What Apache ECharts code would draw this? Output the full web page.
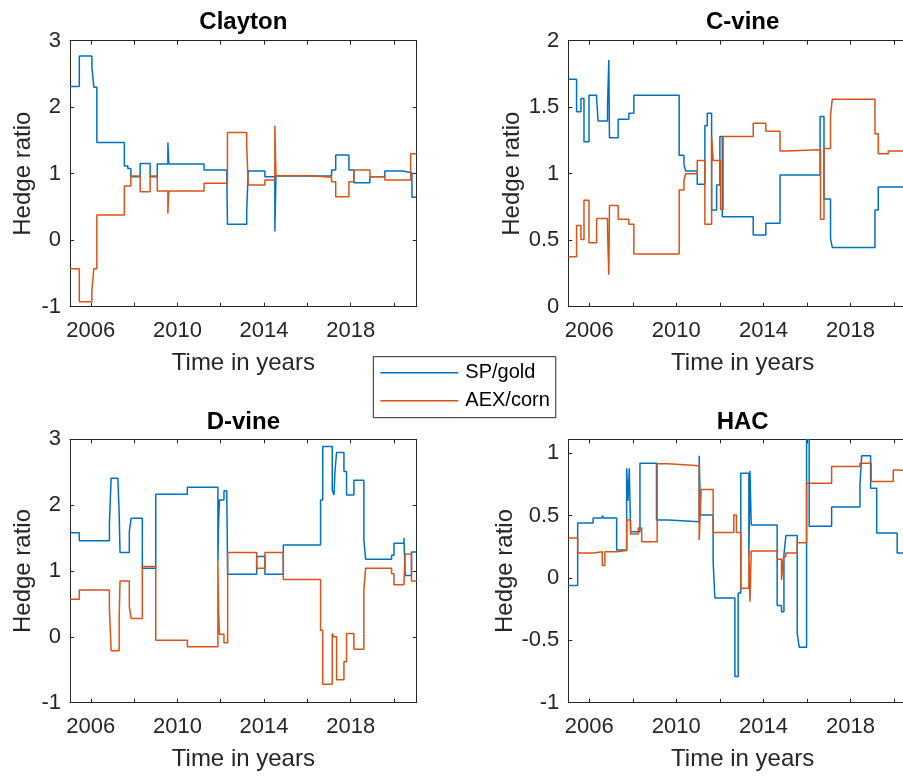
<!DOCTYPE html>
<html>
<head>
<meta charset="utf-8">
<script src="https://cdn.jsdelivr.net/npm/echarts@6/dist/echarts.min.js"></script>
<style>
  html, body { margin: 0; padding: 0; background: #fff; overflow: hidden; }
  #chart { width: 925px; height: 778px; }
</style>
</head>
<body>
<div id="chart"></div>
<script>
// ---------------- data (change points: [year, hedge ratio]) ----------------
const seriesNames = ['SP/gold', 'AEX/corn'];
const panelTitles = ['Clayton', 'C-vine', 'D-vine', 'HAC'];

const xTickValues = [2006, 2008, 2010, 2012, 2014, 2016, 2018, 2020];
const xLabelValues = [2006, 2010, 2014, 2018];
const claytonTicks = [-1, 0, 1, 2, 3];
const cvineTicks = [0, 0.5, 1, 1.5, 2];
const dvineTicks = [-1, 0, 1, 2, 3];
const hacTicks = [-1, -0.5, 0, 0.5, 1];

const claytonSP = [
  [2005.04,2.31],[2005.47,2.77],[2006.05,2.61],[2006.14,2.30],[2006.28,1.47],[2007.55,1.115],
  [2007.71,1.08],[2007.85,0.955],[2008.28,1.155],[2008.74,0.955],[2009.07,1.145],[2009.56,1.47],
  [2009.60,1.145],[2011.23,1.055],[2012.28,1.015],[2012.31,0.24],[2013.20,0.44],[2013.27,1.04],
  [2014.04,0.955],[2014.50,0.13],[2014.55,0.965],[2017.12,1.055],[2017.31,1.28],[2017.92,1.055],
  [2018.15,0.865],[2018.89,0.955],[2019.58,1.04],[2020.40,1.015],[2020.83,0.645],[2021.05,0.645]
];
const claytonAEX = [
  [2005.04,-0.43],[2005.47,-0.925],[2006.05,-0.75],[2006.14,-0.43],[2006.28,0.38],[2007.55,0.815],
  [2007.85,0.965],[2008.28,0.73],[2008.74,0.965],[2009.07,0.74],[2009.56,0.40],[2009.60,0.74],
  [2011.23,0.855],[2012.31,1.62],[2013.20,1.42],[2013.27,0.83],[2014.04,0.905],[2014.50,1.72],
  [2014.55,0.97],[2016.12,0.945],[2017.12,0.88],[2017.31,0.655],[2017.92,0.88],[2018.15,1.055],
  [2018.89,0.955],[2019.58,0.905],[2020.77,1.30],[2021.05,1.30]
];
const cvineSP = [
  [2005.04,1.71],[2005.42,1.466],[2005.62,1.566],[2005.76,1.24],[2005.99,1.59],[2006.34,1.566],
  [2006.41,1.396],[2006.84,1.50],[2006.90,1.855],[2006.93,1.27],[2007.33,1.41],[2007.82,1.454],
  [2008.05,1.59],[2010.13,1.138],[2010.35,1.07],[2010.43,1.02],[2010.96,0.92],[2011.31,1.36],
  [2011.42,1.454],[2011.62,0.727],[2011.85,0.915],[2012.0,1.28],[2012.11,0.677],[2013.53,0.54],
  [2014.11,0.627],[2014.76,0.99],[2016.60,1.43],[2016.78,0.81],[2017.08,0.51],[2017.16,0.446],
  [2019.12,0.727],[2019.27,0.90],[2021.05,0.90]
];
const cvineAEX = [
  [2005.04,0.376],[2005.42,0.61],[2005.62,0.506],[2005.76,0.80],[2005.99,0.48],[2006.34,0.664],
  [2006.84,0.58],[2006.90,0.24],[2006.93,0.76],[2007.33,0.657],[2007.82,0.62],[2008.05,0.396],
  [2010.13,0.877],[2010.35,0.95],[2010.43,1.0],[2010.96,1.10],[2011.31,0.62],[2011.62,1.28],
  [2011.69,1.10],[2012.03,0.73],[2012.15,1.28],[2013.53,1.38],[2014.11,1.32],[2014.76,1.17],
  [2015.06,1.18],[2016.62,0.657],[2016.78,1.19],[2017.08,1.44],[2017.16,1.56],[2019.12,1.30],
  [2019.27,1.15],[2019.73,1.17],[2021.05,1.17]
];
const dvineSP = [
  [2005.04,1.58],[2005.47,1.46],[2006.86,1.73],[2006.94,2.41],[2007.25,2.38],[2007.31,1.88],
  [2007.35,1.28],[2007.78,1.60],[2007.86,1.80],[2008.38,1.04],[2009.0,2.165],[2010.46,2.27],
  [2011.87,1.14],[2011.90,1.72],[2011.94,2.08],[2012.15,2.22],[2012.28,2.18],[2012.32,0.95],
  [2013.66,1.22],[2014.04,0.95],[2014.89,1.395],[2016.61,2.08],[2016.71,2.89],[2017.15,2.23],
  [2017.23,2.155],[2017.28,2.53],[2017.35,2.80],[2017.69,2.51],[2017.81,2.155],[2018.15,2.38],
  [2018.61,1.47],[2018.69,1.18],[2019.89,1.24],[2020.0,1.42],[2020.46,1.50],[2020.52,0.93],
  [2020.81,1.29],[2021.05,1.29]
];
const dvineAEX = [
  [2005.04,0.57],[2005.47,0.71],[2006.86,0.43],[2006.94,-0.21],[2007.31,0.28],[2007.35,0.85],
  [2007.78,0.46],[2007.86,0.28],[2008.38,1.07],[2009.0,-0.05],[2010.46,-0.15],[2011.87,1.14],
  [2011.90,0.41],[2011.94,0.04],[2012.15,-0.09],[2012.32,1.28],[2013.66,1.04],[2014.04,1.28],
  [2014.89,0.87],[2016.61,0.10],[2016.71,-0.72],[2017.15,0.05],[2017.23,0.0],[2017.35,-0.65],
  [2017.69,-0.38],[2017.81,0.05],[2018.15,-0.19],[2018.61,0.71],[2018.69,1.04],[2019.89,0.96],
  [2020.0,0.79],[2020.46,0.82],[2020.52,1.26],[2020.81,0.85],[2021.05,0.85]
];
const hacSP = [
  [2005.04,-0.06],[2005.47,0.44],[2006.18,0.48],[2006.60,0.50],[2006.67,0.48],[2007.26,0.225],
  [2007.72,0.88],[2007.78,0.62],[2007.84,0.88],[2007.90,0.37],[2008.33,0.92],[2009.09,0.465],
  [2009.63,0.45],[2011.05,0.98],[2011.11,0.505],[2011.69,0.13],[2011.77,-0.16],[2012.69,-0.79],
  [2012.84,-0.12],[2012.96,0.84],[2013.33,0.17],[2013.38,0.86],[2013.44,0.425],[2014.63,-0.22],
  [2014.83,-0.27],[2014.94,0.185],[2015.03,0.34],[2015.55,-0.44],[2015.64,-0.555],[2015.98,1.11],
  [2016.10,0.415],[2017.13,0.57],[2018.43,0.746],[2018.51,0.98],[2018.92,0.72],[2019.20,0.36],
  [2020.14,0.20],[2021.05,0.20]
];
const hacAEX = [
  [2005.04,0.32],[2005.47,0.20],[2006.18,0.21],[2006.60,0.10],[2006.72,0.21],[2007.26,0.22],
  [2007.72,0.465],[2007.90,0.353],[2008.25,0.40],[2008.41,0.29],[2009.12,0.915],[2009.63,0.90],
  [2011.05,0.305],[2011.14,0.71],[2011.69,0.364],[2012.64,0.505],[2012.76,0.364],[2012.96,-0.083],
  [2013.33,0.22],[2013.38,-0.19],[2013.44,0.217],[2014.63,0.15],[2014.83,-0.016],[2014.92,0.17],
  [2015.03,0.20],[2015.55,0.283],[2015.98,0.76],[2017.13,0.893],[2018.43,0.92],[2018.95,0.773],
  [2019.96,0.866],[2020.19,0.853],[2021.05,0.853]
];

const xRange = [2005.04, 2021.05];
const yRanges = [[-1, 3], [0, 2], [-1, 3], [-1, 1.112]];

// ---------------- layout / style ----------------
const FONT = '"Liberation Sans", Arial, Helvetica, sans-serif';
const AXIS_COLOR = '#262626';
const COLORS = ['#0072BD', '#D95319'];
const VIEW_W = 903;

const panels = [
  { title: panelTitles[0], data: [claytonSP, claytonAEX], yr: yRanges[0], yt: claytonTicks,
    grid: { left: 70, top: 40.7, width: 346.7, height: 266 }, titleY: 22.5 },
  { title: panelTitles[1], data: [cvineSP, cvineAEX], yr: yRanges[1], yt: cvineTicks,
    grid: { left: 568.3, top: 40.7, width: 348.7, height: 266 }, titleY: 22.5 },
  { title: panelTitles[2], data: [dvineSP, dvineAEX], yr: yRanges[2], yt: dvineTicks,
    grid: { left: 70, top: 439.3, width: 346.7, height: 263.4 }, titleY: 422.5 },
  { title: panelTitles[3], data: [hacSP, hacAEX], yr: yRanges[3], yt: hacTicks,
    grid: { left: 568.3, top: 439.3, width: 348.7, height: 263.4 }, titleY: 422.5 }
];

const grids = [], xAxes = [], yAxes = [], series = [], titles = [];
panels.forEach((p, i) => {
  grids.push(Object.assign({ containLabel: false, outerBoundsMode: 'none', show: false }, p.grid));
  titles.push({
    text: p.title, left: p.grid.left + p.grid.width / 2, top: p.titleY,
    textAlign: 'center', textVerticalAlign: 'middle', padding: 0,
    textStyle: { fontFamily: FONT, fontSize: 24, fontWeight: 'bold', color: '#000' }
  });
  const rightVisible = p.grid.left + p.grid.width <= VIEW_W;
  // bottom x axis
  xAxes.push({
    type: 'value', gridIndex: i, position: 'bottom', min: xRange[0], max: xRange[1],
    name: 'Time in years', nameLocation: 'middle', nameGap: 45,
    nameTextStyle: { fontFamily: FONT, fontSize: 24, color: AXIS_COLOR },
    axisLine: { show: true, onZero: false, lineStyle: { color: AXIS_COLOR, width: 1 } },
    axisTick: { show: true, inside: true, length: 4, customValues: xTickValues, lineStyle: { color: AXIS_COLOR, width: 1 } },
    axisLabel: { show: true, customValues: xLabelValues, margin: 13, fontFamily: FONT, fontSize: 22, color: AXIS_COLOR,
                 formatter: v => String(v) },
    splitLine: { show: false }
  });
  // top x axis (box)
  xAxes.push({
    type: 'value', gridIndex: i, position: 'top', min: xRange[0], max: xRange[1],
    axisLine: { show: true, onZero: false, lineStyle: { color: AXIS_COLOR, width: 1 } },
    axisTick: { show: true, inside: true, length: 4, customValues: xTickValues, lineStyle: { color: AXIS_COLOR, width: 1 } },
    axisLabel: { show: false }, splitLine: { show: false }
  });
  // left y axis
  yAxes.push({
    type: 'value', gridIndex: i, position: 'left', min: p.yr[0], max: p.yr[1],
    name: 'Hedge ratio', nameLocation: 'middle', nameGap: 35,
    nameTextStyle: { fontFamily: FONT, fontSize: 24, color: AXIS_COLOR },
    axisLine: { show: true, onZero: false, lineStyle: { color: AXIS_COLOR, width: 1 } },
    axisTick: { show: true, inside: true, length: 4, customValues: p.yt, lineStyle: { color: AXIS_COLOR, width: 1 } },
    axisLabel: { show: true, customValues: p.yt, margin: 9, fontFamily: FONT, fontSize: 22, color: AXIS_COLOR,
                 formatter: v => String(v) },
    splitLine: { show: false }
  });
  // right y axis (box); the right-hand column's box edge lies outside the cropped view
  yAxes.push({
    type: 'value', gridIndex: i, position: 'right', min: p.yr[0], max: p.yr[1], show: rightVisible,
    axisLine: { show: rightVisible, onZero: false, lineStyle: { color: AXIS_COLOR, width: 1 } },
    axisTick: { show: rightVisible, inside: true, length: 4, customValues: p.yt, lineStyle: { color: AXIS_COLOR, width: 1 } },
    axisLabel: { show: false }, splitLine: { show: false }
  });
  p.data.forEach((d, k) => {
    series.push({
      type: 'line', name: seriesNames[k], xAxisIndex: 2 * i, yAxisIndex: 2 * i,
      data: d, step: 'end', symbol: 'none', showSymbol: false, clip: true, silent: true,
      color: COLORS[k], lineStyle: { color: COLORS[k], width: 1.5 }
    });
  });
});

const chart = echarts.init(document.getElementById('chart'), null, { renderer: 'canvas' });
chart.setOption({
  animation: false,
  backgroundColor: '#fff',
  title: titles,
  grid: grids,
  xAxis: xAxes,
  yAxis: yAxes,
  legend: {
    data: seriesNames, orient: 'vertical', left: 373.3, top: 356.7,
    icon: 'rect', itemWidth: 78, itemHeight: 1.5, itemGap: 6,
    padding: [5, 6, 6, 7], selectedMode: false,
    borderColor: AXIS_COLOR, borderWidth: 1, backgroundColor: '#fff',
    textStyle: { fontFamily: FONT, fontSize: 20, lineHeight: 22, color: '#000', padding: [0, 0, 0, 2] }
  },
  series: series
});
</script>
</body>
</html>
